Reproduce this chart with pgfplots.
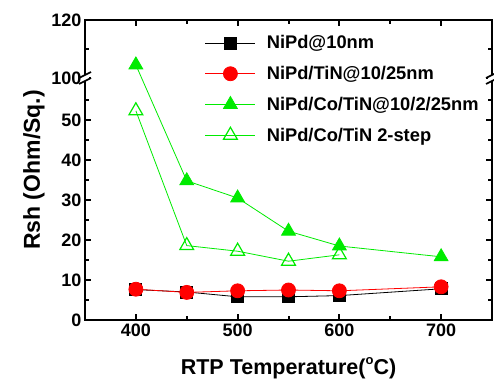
\documentclass[border=0pt]{standalone}
\usepackage{fontspec}
\setmainfont{Liberation Sans}
\usepackage{pgfplots}
\pgfplotsset{compat=1.18}
\definecolor{lgreen}{RGB}{0,235,0}
\begin{document}
\bfseries
\begin{tikzpicture}
\begin{axis}[
 scale only axis, width=407pt, height=300pt,
 xmin=350, xmax=750, ymin=0, ymax=120,
 clip=false,
 y coord trafo/.code={\pgfmathparse{ifthenelse(#1>80,60.5+(#1-100)*0.725,#1)}},
 xtick={400,500,600,700}, minor xtick={450,550,650},
 ytick={0,10,20,30,40,50,100,120}, yticklabels={0,10,20,30,40,50,100,120},
 minor ytick={5,15,25,35,45,55,110},
 tick align=inside,
 major tick length=6pt, minor tick length=4pt,
 axis line style={line width=2.4pt},
 tick style={line width=2pt, black},
 /pgf/number format/assume math mode=true,
 ticklabel style={font=\bfseries\fontsize{18}{20}\selectfont},
 xticklabels={400,500,600,700},
 xlabel style={font=\bfseries\fontsize{21.5}{24}\selectfont, at={(axis description cs:0.5,0)}, anchor=base, yshift=-54pt},
 ylabel style={font=\bfseries\fontsize{23}{25}\selectfont},
 xlabel={RTP Temperature(\raisebox{0.8ex}{\fontsize{13}{14}\selectfont o}C)},
 ylabel={Rsh (Ohm/Sq.)},
 legend style={draw=none, fill=none, at={(0.287,0.962)}, anchor=north west,
   font=\bfseries\fontsize{18.3}{20}\selectfont, row sep=12pt, column sep=9pt,
   nodes={inner sep=2pt}},
 legend cell align=left,
 legend image code/.code={\draw[mark repeat=2,mark phase=2,#1] plot coordinates {(0pt,0pt) (25pt,0pt) (50pt,0pt)};},
]
\addplot[black, line width=0.8pt, mark=square*, mark size=6pt, mark options={solid}] coordinates {(400,7.6)(450,7.0)(500,5.8)(550,5.8)(600,6.1)(700,7.8)};
\addlegendentry{NiPd@10nm}
\addplot[red, line width=0.8pt, mark=*, mark size=7pt, mark options={solid}] coordinates {(400,7.7)(450,6.9)(500,7.3)(550,7.5)(600,7.3)(700,8.3)};
\addlegendentry{NiPd/TiN@10/25nm}
\addplot[lgreen, line width=0.8pt, mark=triangle*, mark size=8pt, mark options={solid}] coordinates {(400,104.5)(450,34.8)(500,30.5)(550,22.2)(600,18.5)(700,15.8)};
\addlegendentry{NiPd/Co/TiN@10/2/25nm}
\addplot[lgreen, line width=0.8pt, mark=triangle, mark size=8pt, mark options={solid, fill=white, line width=1.2pt}] coordinates {(400,52.3)(450,18.6)(500,17.2)(550,14.7)(600,16.3)};
\addlegendentry{NiPd/Co/TiN 2-step}
\fill[white] ([xshift=-4pt,yshift=-3pt]rel axis cs:0,0.8067) rectangle ([xshift=4pt,yshift=3pt]rel axis cs:0,0.8067);
\draw[line width=1.6pt] ([xshift=-6pt,yshift=-6pt]rel axis cs:0,0.8067) -- ([xshift=6pt,yshift=0pt]rel axis cs:0,0.8067);
\draw[line width=1.6pt] ([xshift=-6pt,yshift=0pt]rel axis cs:0,0.8067) -- ([xshift=6pt,yshift=6pt]rel axis cs:0,0.8067);
\fill[white] ([xshift=-4pt,yshift=-3pt]rel axis cs:1,0.8067) rectangle ([xshift=4pt,yshift=3pt]rel axis cs:1,0.8067);
\draw[line width=1.6pt] ([xshift=-6pt,yshift=-6pt]rel axis cs:1,0.8067) -- ([xshift=6pt,yshift=0pt]rel axis cs:1,0.8067);
\draw[line width=1.6pt] ([xshift=-6pt,yshift=0pt]rel axis cs:1,0.8067) -- ([xshift=6pt,yshift=6pt]rel axis cs:1,0.8067);
\end{axis}
\pgfresetboundingbox
\path (-85pt,-59pt) rectangle (409pt,320pt);
\end{tikzpicture}
\end{document}
